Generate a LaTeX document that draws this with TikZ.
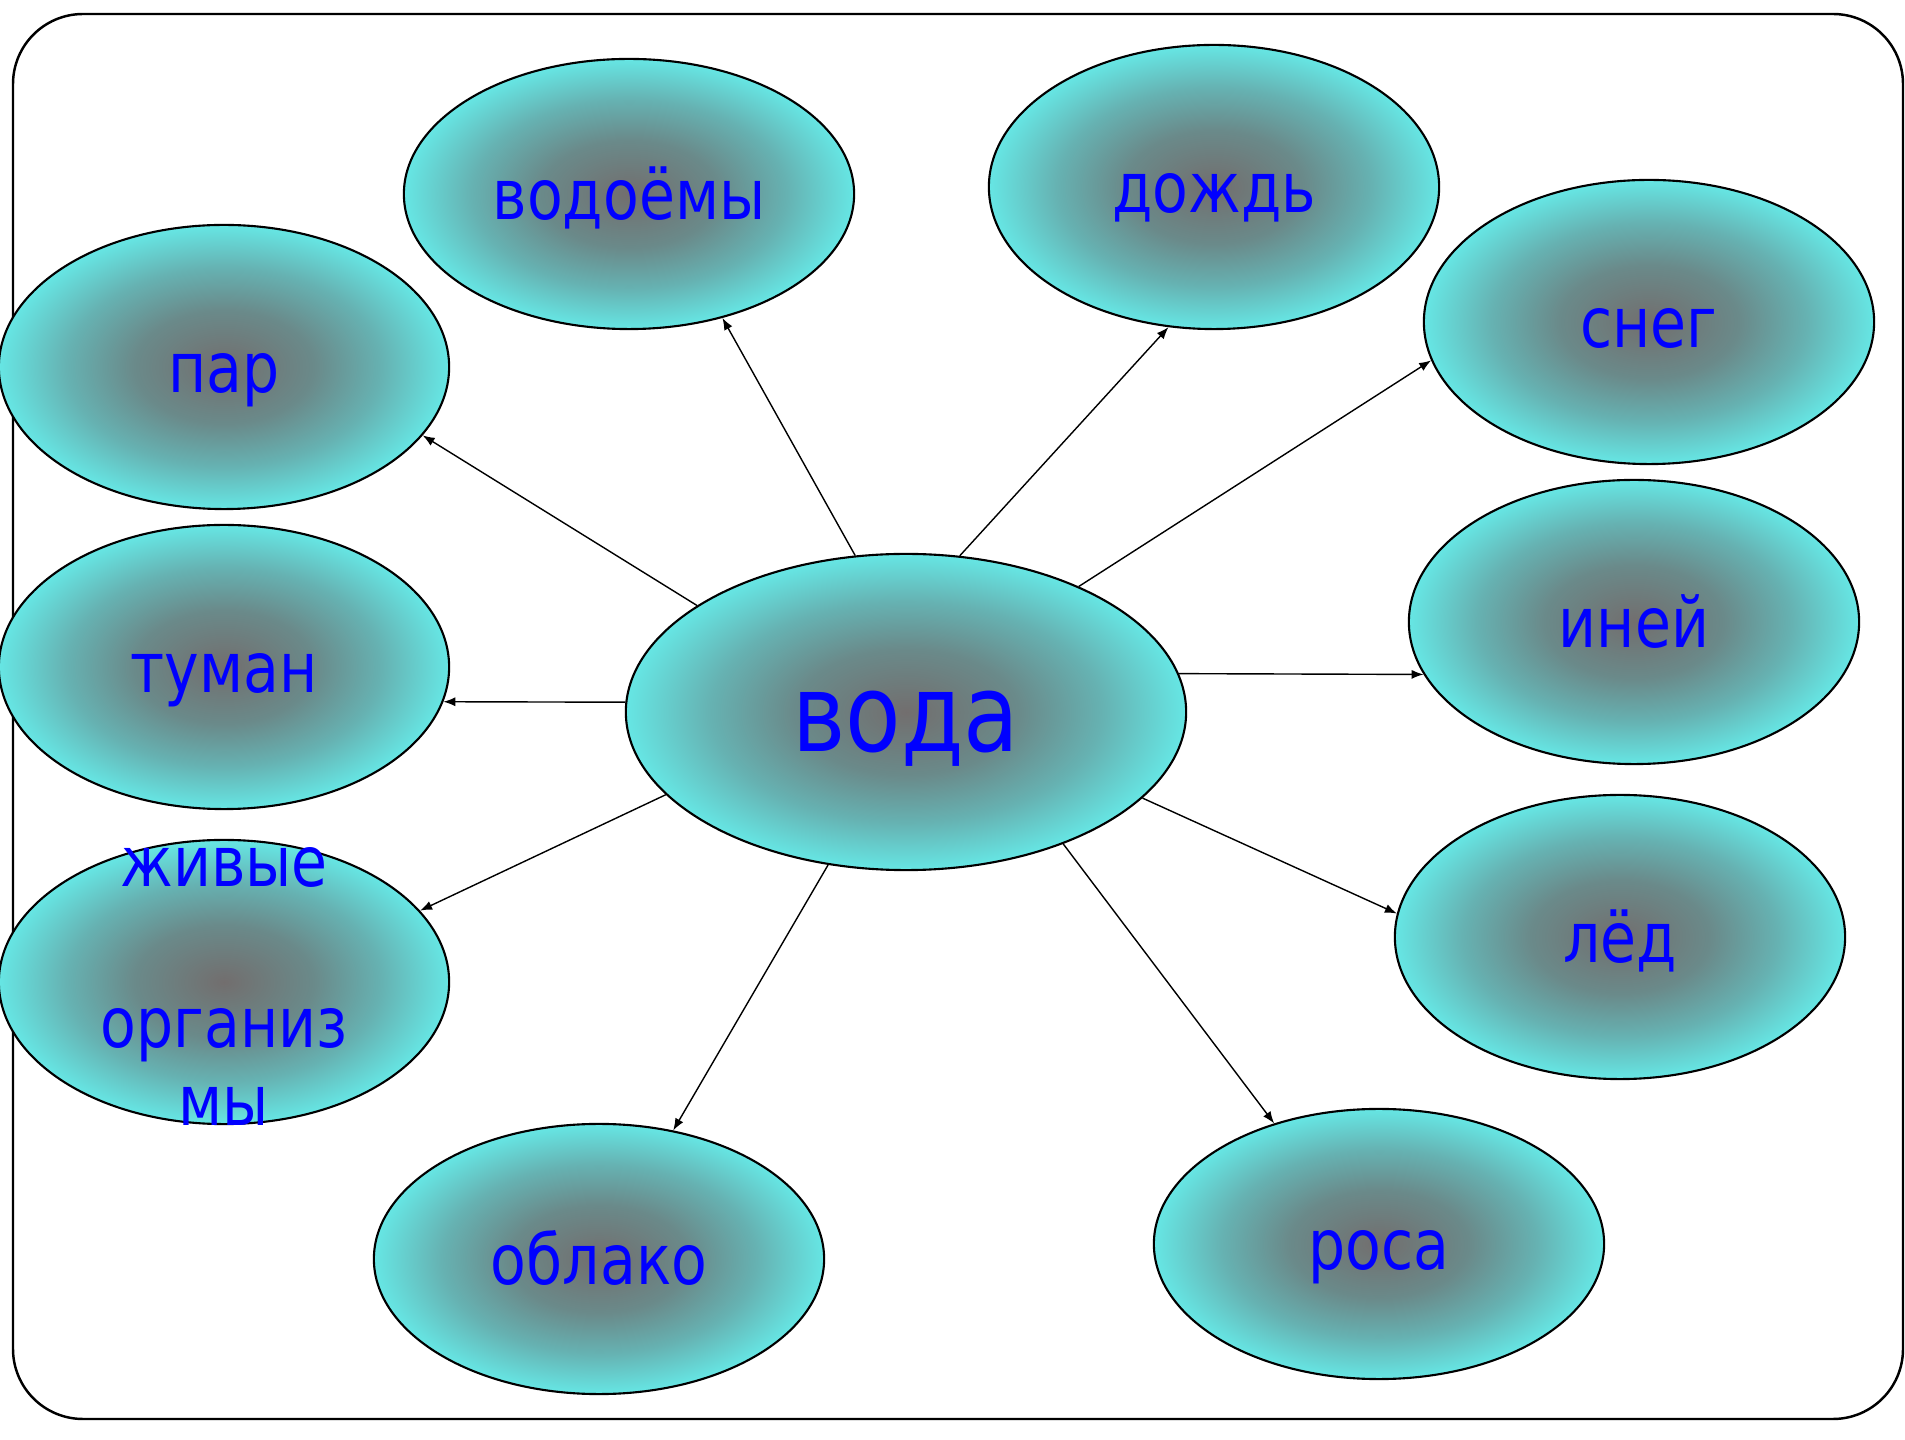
\documentclass[tikz,border=0pt]{standalone}
\usepackage{fontspec}
\newfontfamily\wordfont{DejaVu Sans}[FakeStretch=0.84]
\usetikzlibrary{shapes.geometric,arrows.meta}
\definecolor{lagoon}{RGB}{102,230,228}
\definecolor{tealmid}{RGB}{102,178,178}
\definecolor{murkmid}{RGB}{106,138,138}
\definecolor{murk}{RGB}{114,110,110}
\definecolor{ink}{RGB}{0,0,255}
\pgfdeclareradialshading{pond}{\pgfpoint{0bp}{0bp}}{color(0bp)=(murk); color(10bp)=(murkmid); color(17.5bp)=(tealmid); color(25bp)=(lagoon); color(50bp)=(lagoon)}
\begin{document}
\begin{tikzpicture}[x=0.01cm, y=-0.01cm, >={Latex[length=3.4pt,width=2.6pt]},
  bubble/.style={ellipse, draw, line width=0.6pt, inner sep=0pt,
    shade, shading=pond,
    minimum width=4.5cm, minimum height=2.84cm},
  flat/.style={minimum height=2.7cm},
  word/.style={anchor=base, text=ink, inner sep=0pt,
    font=\wordfont\fontsize{19.8}{22.1}\selectfont}]
\useasboundingbox (0,0) rectangle (1905,1440);
\draw[line width=0.7pt, rounded corners=0.7cm] (13,14) rectangle (1903,1419);

% the middle
\node[bubble, minimum width=5.6cm, minimum height=3.16cm] (voda) at (906,712) {};
\node[word, font=\wordfont\fontsize{30.7}{34}\selectfont] at ([yshift=-0.39cm]voda.center) {вода};

% round about
\node[bubble, flat] (vodoemy) at (629,194) {};
\node[bubble] (dozhd) at (1214,187) {};
\node[bubble] (sneg) at (1649,322) {};
\node[bubble] (par) at (224,367) {};
\node[bubble] (tuman) at (224,667) {};
\node[bubble] (inei) at (1634,622) {};
\node[bubble] (org) at (224,982) {};
\node[bubble] (led) at (1620,937) {};
\node[bubble, flat] (oblako) at (599,1259) {};
\node[bubble, flat] (rosa) at (1379,1244) {};

\node[word] at ([yshift=-0.25cm]vodoemy.center) {водоёмы};
\node[word] at ([yshift=-0.25cm]dozhd.center) {дождь};
\node[word] at ([yshift=-0.25cm]sneg.center) {снег};
\node[word] at ([yshift=-0.25cm]par.center) {пар};
\node[word] at ([yshift=-0.25cm]tuman.center) {туман};
\node[word] at ([yshift=-0.25cm]inei.center) {иней};
\node[word, align=center, anchor=north] at ([yshift=1.35cm]org.center) {живые\\[0.83cm]организ\\мы};
\node[word] at ([yshift=-0.25cm]led.center) {лёд};
\node[word] at ([yshift=-0.25cm]oblako.center) {облако};
\node[word] at ([yshift=-0.25cm]rosa.center) {роса};

% arrows
\draw[->] (voda.153) -- (par.341);
\draw[->] (voda.108) -- (vodoemy.307);
\draw[->] (voda.71) -- (dozhd.252);
\draw[->] (voda.36) -- (sneg.190);
\draw[->] (voda.178) -- (tuman.351);
\draw[->] (voda.8) -- (inei.194);
\draw[->] (voda.199) -- (org.20);
\draw[->] (voda.243) -- (oblako.60);
\draw[->] (voda.320) -- (rosa.131);
\draw[->] (voda.340) -- (led.174);
\end{tikzpicture}
\end{document}
